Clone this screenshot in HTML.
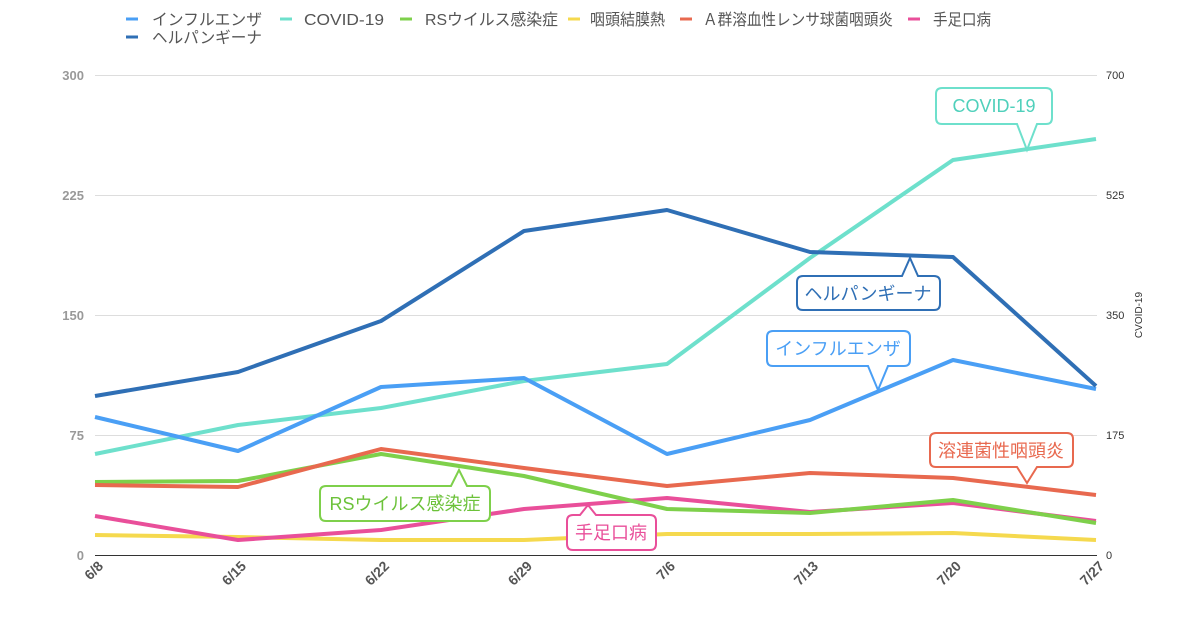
<!DOCTYPE html>
<html><head><meta charset="utf-8"><style>
body{margin:0;background:#fff;width:1200px;height:630px;overflow:hidden}
svg{font-family:"Liberation Sans","Noto Sans CJK JP",sans-serif}
</style></head><body>
<svg width="1200" height="630" viewBox="0 0 1200 630">
<g font-size="16" fill="#555">
<line x1="126" y1="19" x2="138" y2="19" stroke="#4a9ff5" stroke-width="3"/><text x="152" y="25" textLength="110" lengthAdjust="spacingAndGlyphs">インフルエンザ</text>
<line x1="280" y1="19" x2="292" y2="19" stroke="#6ee0cc" stroke-width="3"/><text x="304" y="25" textLength="80" lengthAdjust="spacingAndGlyphs">COVID-19</text>
<line x1="400" y1="19" x2="412" y2="19" stroke="#7ed04b" stroke-width="3"/><text x="425" y="25" textLength="133" lengthAdjust="spacingAndGlyphs">RSウイルス感染症</text>
<line x1="568" y1="19" x2="580" y2="19" stroke="#f5d94e" stroke-width="3"/><text x="590" y="25" textLength="75" lengthAdjust="spacingAndGlyphs">咽頭結膜熱</text>
<line x1="680" y1="19" x2="692" y2="19" stroke="#e8694f" stroke-width="3"/><text x="703" y="25" textLength="190" lengthAdjust="spacingAndGlyphs">Ａ群溶血性レンサ球菌咽頭炎</text>
<line x1="908" y1="19" x2="920" y2="19" stroke="#e94f9a" stroke-width="3"/><text x="933" y="25" textLength="58" lengthAdjust="spacingAndGlyphs">手足口病</text>
<line x1="126" y1="37" x2="138" y2="37" stroke="#2f6fb5" stroke-width="3"/><text x="152" y="43" textLength="110" lengthAdjust="spacingAndGlyphs">ヘルパンギーナ</text>
</g>
<g stroke="#ddd" stroke-width="1">
<line x1="95" y1="75.5" x2="1097" y2="75.5"/><line x1="95" y1="195.5" x2="1097" y2="195.5"/>
<line x1="95" y1="315.5" x2="1097" y2="315.5"/><line x1="95" y1="435.5" x2="1097" y2="435.5"/>
</g>
<line x1="95" y1="555.5" x2="1097" y2="555.5" stroke="#333"/>
<g font-size="13" font-weight="bold" fill="#999" text-anchor="end">
<text x="84" y="80">300</text><text x="84" y="200">225</text><text x="84" y="320">150</text><text x="84" y="440">75</text><text x="84" y="560">0</text>
</g>
<g font-size="11" fill="#333">
<text x="1106" y="79">700</text><text x="1106" y="199">525</text><text x="1106" y="319">350</text><text x="1106" y="439">175</text><text x="1106" y="559">0</text>
<text transform="translate(1142,315) rotate(-90)" text-anchor="middle" font-size="10">CVOID-19</text>
</g>
<g font-size="14" font-weight="bold" fill="#555" text-anchor="end">
<text transform="translate(104,567) rotate(-45)">6/8</text>
<text transform="translate(247,567) rotate(-45)">6/15</text>
<text transform="translate(390,567) rotate(-45)">6/22</text>
<text transform="translate(533,567) rotate(-45)">6/29</text>
<text transform="translate(676,567) rotate(-45)">7/6</text>
<text transform="translate(819,567) rotate(-45)">7/13</text>
<text transform="translate(962,567) rotate(-45)">7/20</text>
<text transform="translate(1105,567) rotate(-45)">7/27</text>
</g>
<g fill="none" stroke-width="4" stroke-linejoin="round">
<polyline stroke="#f5d94e" points="95,535 238,537 381,540 524,540 667,534 810,534 953,533 1096,540"/>
<polyline stroke="#e94f9a" points="95,516 238,540 381,530 524,509 667,498 810,512 953,503 1096,521"/>
<polyline stroke="#7ed04b" points="95,482 238,481 381,454 524,476 667,509 810,513 953,500 1096,523"/>
<polyline stroke="#e8694f" points="95,485 238,487 381,449 524,468 667,486 810,473 953,478 1096,495"/>
<polyline stroke="#6ee0cc" points="95,454 238,425 381,408 524,381 667,364 810,258 953,160 1096,139"/>
<polyline stroke="#4a9ff5" points="95,417 238,451 381,387 524,378 667,454 810,420 953,360 1096,389"/>
<polyline stroke="#2f6fb5" points="95,396 238,372 381,321 524,231 667,210 810,252 953,257 1096,386"/>
</g>
<g stroke-width="2" fill="#fff" font-size="18" text-anchor="middle">
<path d="M942,88 H1046 Q1052,88 1052,94 V118 Q1052,124 1046,124 H1037 L1027,150 L1017,124 H942 Q936,124 936,118 V94 Q936,88 942,88Z" stroke="#6ee0cc"/>
<text x="994" y="112" fill="#4fd0bb" stroke="none">COVID-19</text>
<path d="M803,276 H902 L910,258 L918,276 H934 Q940,276 940,282 V304 Q940,310 934,310 H803 Q797,310 797,304 V282 Q797,276 803,276Z" stroke="#2f6fb5"/>
<text x="868" y="300" fill="#2f6fb5" stroke="none">ヘルパンギーナ</text>
<path d="M773,331 H904 Q910,331 910,337 V360 Q910,366 904,366 H888 L878,390 L868,366 H773 Q767,366 767,360 V337 Q767,331 773,331Z" stroke="#4a9ff5"/>
<text x="838" y="355" fill="#4a9ff5" stroke="none">インフルエンザ</text>
<path d="M936,433 H1067 Q1073,433 1073,439 V461 Q1073,467 1067,467 H1037 L1027,483 L1017,467 H936 Q930,467 930,461 V439 Q930,433 936,433Z" stroke="#e8694f"/>
<text x="1001" y="457" fill="#e8694f" stroke="none">溶連菌性咽頭炎</text>
<path d="M326,486 H451 L459,470 L467,486 H484 Q490,486 490,492 V515 Q490,521 484,521 H326 Q320,521 320,515 V492 Q320,486 326,486Z" stroke="#7ed04b"/>
<text x="405" y="510" fill="#6cc23a" stroke="none">RSウイルス感染症</text>
<path d="M573,515 H580 L588,505 L596,515 H650 Q656,515 656,521 V544 Q656,550 650,550 H573 Q567,550 567,544 V521 Q567,515 573,515Z" stroke="#e94f9a"/>
<text x="611" y="539" fill="#e94f9a" stroke="none">手足口病</text>
</g>
</svg>
</body></html>
